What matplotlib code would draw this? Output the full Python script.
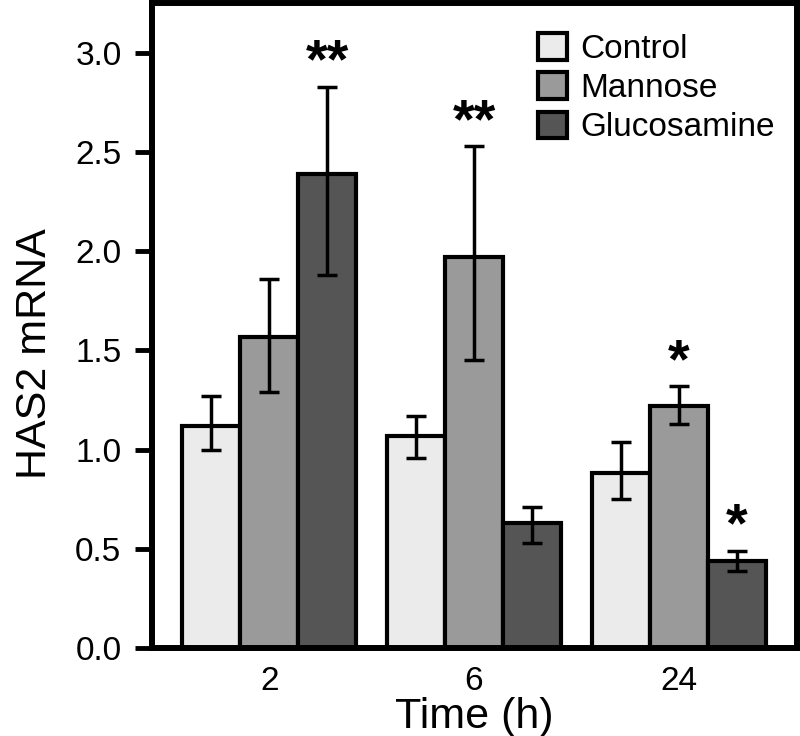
import matplotlib.pyplot as plt
import numpy as np

plt.rcParams['font.family'] = ['Liberation Sans', 'DejaVu Sans']

times = ["2", "6", "24"]
series = ["Control", "Mannose", "Glucosamine"]
colors = ["#ebebeb", "#9a9a9a", "#555555"]

control = [1.12, 1.07, 0.88]
control_lo = [0.12, 0.11, 0.13]
control_hi = [0.15, 0.10, 0.16]
mannose = [1.57, 1.97, 1.22]
mannose_lo = [0.28, 0.52, 0.09]
mannose_hi = [0.29, 0.56, 0.10]
glucosamine = [2.39, 0.63, 0.44]
glucosamine_lo = [0.51, 0.10, 0.05]
glucosamine_hi = [0.44, 0.08, 0.05]

stars = [["", "", "**"], ["", "**", ""], ["", "*", "*"]]

vals = [control, mannose, glucosamine]
errs = [[control_lo, control_hi], [mannose_lo, mannose_hi],
        [glucosamine_lo, glucosamine_hi]]

fig = plt.figure(figsize=(8, 7.36), dpi=100)
ax = fig.add_axes([0.19, 0.1196, 0.806, 0.876])

x = np.arange(len(times))
w = 0.2835
for i in range(3):
    pos = x + (i - 1) * w
    ax.bar(pos, vals[i], w, color=colors[i], edgecolor="black", linewidth=3,
           label=series[i], zorder=2)
    ax.errorbar(pos, vals[i], yerr=errs[i], fmt="none", ecolor="black",
                elinewidth=2.5, capsize=7, capthick=2.5, zorder=3)

for g in range(3):
    for i in range(3):
        s = stars[g][i]
        if s:
            top = vals[i][g] + errs[i][1][g]
            ax.text(x[g] + (i - 1) * w, top - 0.015, s, ha="center", va="bottom",
                    fontsize=40, fontweight="bold")

ax.set_xlim(-0.574, 2.578)
ax.set_ylim(0, 3.25)
ax.set_yticks([0, 0.5, 1.0, 1.5, 2.0, 2.5, 3.0])
ax.set_yticklabels(["0.0", "0.5", "1.0", "1.5", "2.0", "2.5", "3.0"])
ax.set_xticks(x)
ax.set_xticklabels(times)
ax.tick_params(axis="y", labelsize=24, width=3.5, length=12, pad=10, direction="out")
ax.tick_params(axis="x", labelsize=24, length=0, pad=13)
for sp in ax.spines.values():
    sp.set_linewidth(4.3)

ax.set_xlabel("Time (h)", fontsize=31, labelpad=0)
ax.set_ylabel("HAS2 mRNA", fontsize=31)
ax.yaxis.set_label_coords(-0.15, 0.457)

ax.legend(loc="upper right", frameon=False, fontsize=24, handlelength=0.85,
          handleheight=0.85, handletextpad=0.4, labelspacing=0.22,
          borderaxespad=0.5, bbox_to_anchor=(1.012, 1.0))

fig.savefig("out.png", dpi=100)
